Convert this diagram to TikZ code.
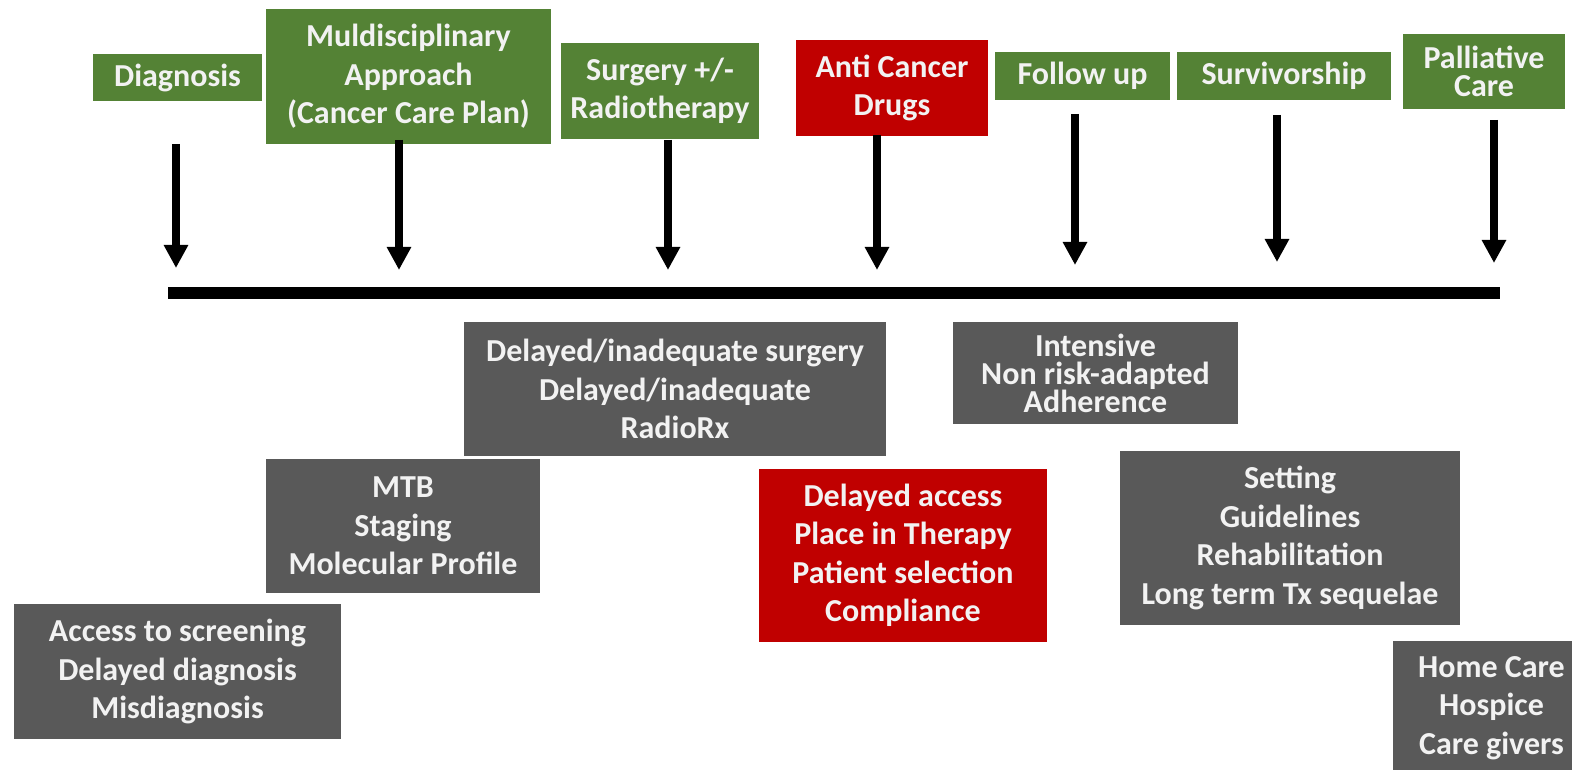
\documentclass[tikz,border=0pt]{standalone}
\usepackage{fontspec}
\setmainfont{Carlito}
\usetikzlibrary{arrows.meta}
\definecolor{stepgreen}{HTML}{548235}
\definecolor{stepred}{HTML}{C00000}
\definecolor{gapgray}{HTML}{595959}
\definecolor{boxtext}{HTML}{F2F2F2}
\begin{document}
\begin{tikzpicture}[x=1pt,y=-1pt,>={Triangle[width=23pt,length=23pt]},line cap=butt,
    box/.style={inner sep=0pt,align=center,text=boxtext,font=\fontsize{32}{38.5}\selectfont\bfseries},
    tight/.style={font=\fontsize{32}{28}\selectfont\bfseries},
    green/.style={box,fill=stepgreen},
    red/.style={box,fill=stepred},
    gray/.style={box,fill=gapgray}]
	\useasboundingbox (0,0) rectangle (1572,770);
	% steps of the pathway
	\node[green,minimum width=169,minimum height=47] (diag) at (177.5,77.5) {Diagnosis};
	\node[green,minimum width=285,minimum height=135] (mdt) at (408.5,76.5) {Muldisciplinary\\Approach\\(Cancer Care Plan)};
	\node[green,minimum width=198,minimum height=96] (surg) at (660,91) {Surgery +/-\\Radiotherapy};
	\node[red,minimum width=192,minimum height=96] (drug) at (892,88) {Anti Cancer\\Drugs};
	\node[green,minimum width=175,minimum height=48] (fup) at (1082.5,76) {Follow up};
	\node[green,minimum width=214,minimum height=48] (surv) at (1284,76) {Survivorship};
	\node[green,tight,minimum width=162,minimum height=75] (pall) at (1484,71.5) {Palliative\\Care};
	% arrows and time line
	\foreach \x/\ya/\yb [count=\i] in {176/144/268,399/140/270,668/140/270,877/135/270,1075/114/265,1277/115/262,1494/120/263}{
		\coordinate (s\i) at (\x,\ya);
		\coordinate (t\i) at (\x,\yb);
		\draw[->,line width=7.5pt] (s\i) -- (t\i);
	}
	\coordinate (tl0) at (168,292.5);
	\coordinate (tl1) at (1500,292.5);
	\draw[line width=12pt] (tl0) -- (tl1);
	% gaps
	\node[gray,minimum width=422,minimum height=134] (gsurg) at (675,389) {Delayed/inadequate surgery\\Delayed/inadequate\\RadioRx};
	\node[gray,tight,minimum width=285,minimum height=102] (gfup) at (1095.5,373) {Intensive\\Non risk-adapted\\Adherence};
	\node[gray,minimum width=274,minimum height=134] (gmdt) at (403,526) {MTB\\Staging\\Molecular Profile};
	\node[red,minimum width=288,minimum height=173] (gdrug) at (903,555.5) {Delayed access\\Place in Therapy\\Patient selection\\Compliance};
	\node[gray,minimum width=340,minimum height=174] (gsurv) at (1290,538) {Setting\\Guidelines\\Rehabilitation\\Long term Tx sequelae};
	\node[gray,minimum width=327,minimum height=135] (gdiag) at (177.5,671.5) {Access to screening\\Delayed diagnosis\\Misdiagnosis};
	\node[gray,minimum width=197,minimum height=134] (gpall) at (1491.5,708) {Home Care\\Hospice\\Care givers};
\end{tikzpicture}
\end{document}
